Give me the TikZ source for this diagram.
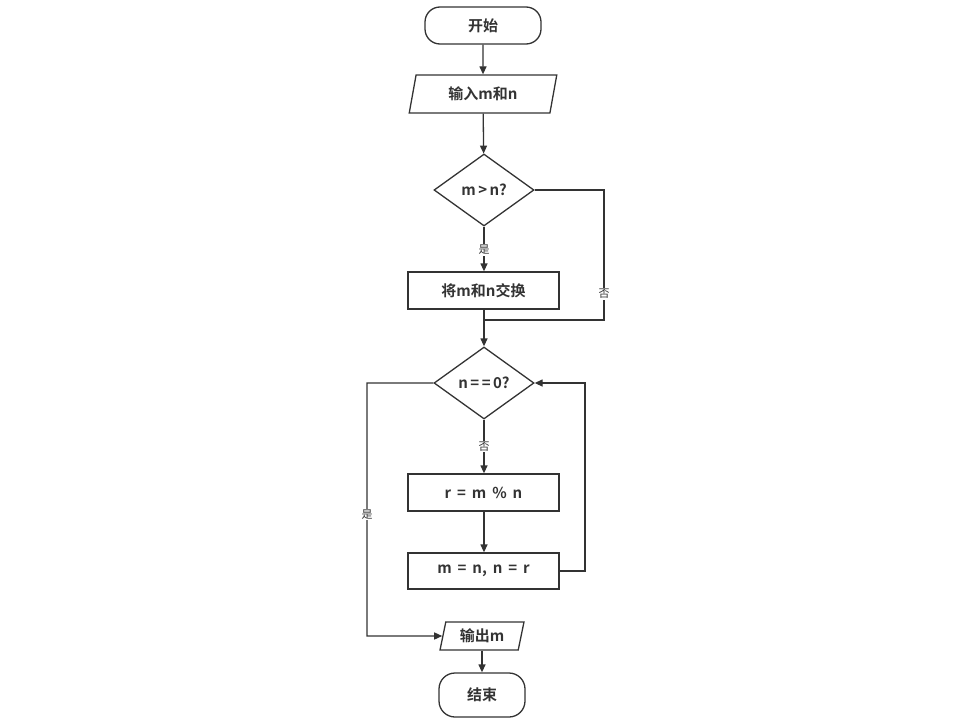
\documentclass[tikz,border=0pt]{standalone}
\usepackage{fontspec}
\usetikzlibrary{shapes.geometric,arrows.meta}
\newfontfamily\cjkb{Noto Sans CJK SC Bold}
\newfontfamily\cjk{Noto Sans CJK SC}
\definecolor{ln}{HTML}{333333}
\begin{document}
\begin{tikzpicture}[x=1pt,y=-1pt,
  every node/.style={text=ln},
  base/.style={draw=ln,line width=1.3pt,font=\cjkb\fontsize{15}{17}\selectfont,inner sep=0pt},
  term/.style={base,rectangle,rounded corners=15pt},
  proc/.style={base,rectangle,minimum width=151pt,minimum height=37pt},
  io/.style={base,trapezium,trapezium left angle=76,trapezium right angle=104,trapezium stretches=true},
  dec/.style={base,diamond,aspect=1.39,minimum width=100pt,minimum height=72pt},
  lbl/.style={font=\cjk\fontsize{11}{13}\selectfont,fill=white,inner sep=1pt},
  arr/.style={draw=ln,line width=1.3pt,-{Triangle[length=8pt,width=7pt]}},
  con/.style={draw=ln,line width=1.3pt}]
\useasboundingbox (0,0) rectangle (964,725);
\node[term,minimum width=116pt,minimum height=37pt] (start) at (483,25.5) {开始};
\node[io,minimum width=148pt,minimum height=38pt] (in) at (483,94) {输入m和n};
\node[dec] (d1) at (484,190) {m\,>\,n?};
\node[proc] (swap) at (483.5,290.5) {将m和n交换};
\node[dec] (d2) at (484,383) {n\,=\,=\,0?};
\node[proc] (mod) at (483.5,492.5) {r\, =\, m\, \%\, n};
\node[proc,minimum height=36pt] (asg) at (483.5,571) {m\, =\, n,\, n\, =\, r};
\node[io,minimum width=84pt,minimum height=28pt] (out) at (482,636) {输出m};
\node[term,minimum width=86pt,minimum height=44pt,rounded corners=16pt] (end) at (482,695) {结束};
\coordinate (j1) at (604,320);
\coordinate (j2) at (585,383);
\coordinate (j3) at (367,636);
\draw[arr] (start) -- (in);
\draw[arr] (in) -- (d1);
\draw[arr] (d1.south) -- node[lbl,pos=0.52] {是} (d1.south |- swap.north);
\draw[con] (d1.east) -| node[lbl,pos=0.9] {否} (j1) -- (d1.south |- j1);
\draw[arr] (d1.south |- swap.south) -- (d2.north);
\draw[arr] (d2.south) -- node[lbl,pos=0.5] {否} (d2.south |- mod.north);
\draw[arr] (d2.south |- mod.south) -- (d2.south |- asg.north);
\draw[arr] (asg.east) -| (j2) -- (d2.east);
\draw[arr] (d2.west) -| node[lbl,pos=0.76] {是} (j3) -- (out.west);
\draw[arr] (out.south -| end.north) -- (end.north);
\end{tikzpicture}
\end{document}
